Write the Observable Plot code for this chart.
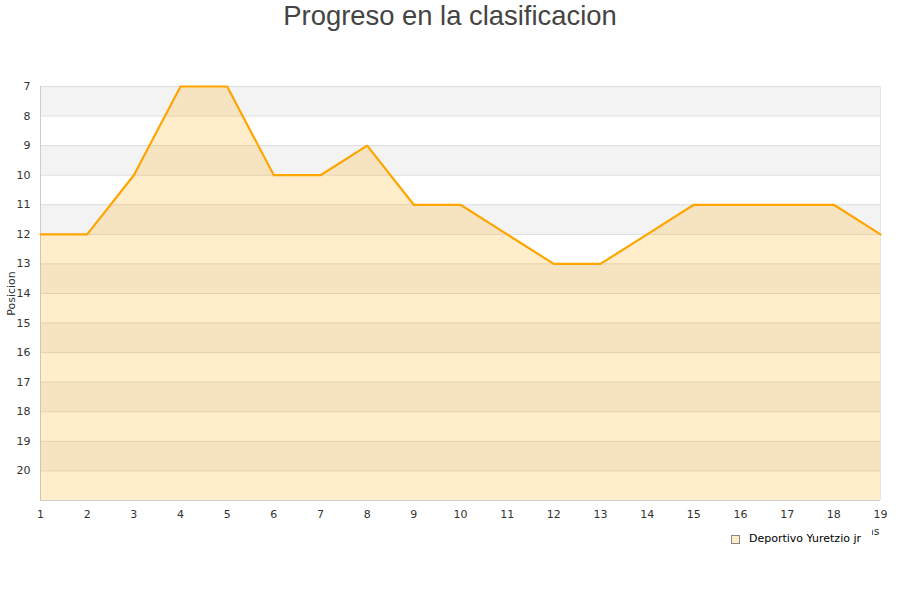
<!DOCTYPE html>
<html>
<head>
<meta charset="utf-8">
<script src="https://cdn.jsdelivr.net/npm/d3@7"></script>
<script src="https://cdn.jsdelivr.net/npm/@observablehq/plot@0.6"></script>
<style>
  body { margin: 0; background: #fff; }
  #wrap { position: relative; width: 900px; height: 600px; overflow: hidden; }
  #title { height: 40px; font: 27.4px "Liberation Sans", Arial, sans-serif; color: #444; text-align: center; line-height: 32px; }
  #legend { position: absolute; left: 725px; top: 527px; width: 147px; height: 27px; background: #fff;
            font: 11px "DejaVu Sans", sans-serif; color: #000; }
  #legend .sw { position: absolute; left: 6px; top: 8px; width: 7px; height: 7px; background: #ffecc9; border: 1px solid #888; }
  #legend .tx { position: absolute; left: 24px; top: 5px; white-space: nowrap; }
</style>
</head>
<body>
<div id="wrap">
  <div id="title">Progreso en la clasificacion</div>
  <div id="chart"></div>
  <div id="legend"><div class="sw"></div><div class="tx">Deportivo Yuretzio jr</div></div>
</div>
<script>
const jornadas = [1,2,3,4,5,6,7,8,9,10,11,12,13,14,15,16,17,18,19];
const posiciones = [12,12,10,7,7,10,10,9,11,11,12,13,13,12,11,11,11,11,12];
const equipo = "Deportivo Yuretzio jr";
const yTicks = [7,8,9,10,11,12,13,14,15,16,17,18,19,20];
const bandStarts = [7,9,11,13,15,17,19];
const yMin = 7, yMax = 21;

const data = jornadas.map((j, i) => ({j, p: posiciones[i]}));
const bands = bandStarts.map(s => ({y1: s, y2: s + 1}));
const grid = d3.range(yMin, yMax + 1);

const chart = Plot.plot({
  width: 900,
  height: 520,
  marginTop: 46,
  marginBottom: 60,
  marginLeft: 40,
  marginRight: 20,
  style: {fontFamily: "'DejaVu Sans', sans-serif", fontSize: "11px", color: "#333", background: "transparent"},
  x: {domain: [1, 19], ticks: jornadas, tickSize: 0, tickPadding: 10, label: null, tickFormat: d => d},
  y: {domain: [yMax, yMin], ticks: yTicks, tickSize: 0, tickPadding: 10, label: "Posicion", labelAnchor: "center", labelArrow: "none", labelOffset: 33, tickFormat: d => d},
  marks: [
    Plot.rect(bands, {x1: 1, x2: 19, y1: "y1", y2: "y2", fill: "#f3f3f3"}),
    Plot.ruleY(grid, {stroke: "#dddddd", strokeWidth: 1}),
    Plot.ruleX([1], {stroke: "#cccccc"}),
    Plot.ruleX([19], {stroke: "#e6e6e6"}),
    Plot.ruleY([yMax], {stroke: "#cccccc"}),
    Plot.areaY(data, {x: "j", y1: yMax, y2: "p", fill: "#ffa500", fillOpacity: 0.2}),
    Plot.lineY(data, {x: "j", y: "p", stroke: "#ffa500", strokeWidth: 2.2}),
    Plot.text(["Jornadas"], {frameAnchor: "bottom-right", dx: -1, dy: 34, textAnchor: "end", fill: "#333", fontSize: 11})
  ]
});
document.getElementById("chart").appendChild(chart);
</script>
</body>
</html>
